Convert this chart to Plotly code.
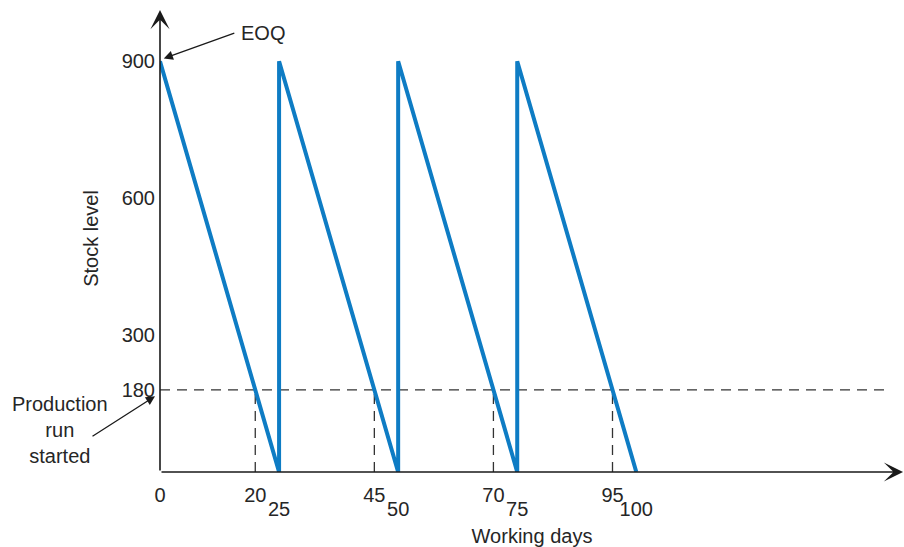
import plotly.graph_objects as go

# ---- data ----
days = [0, 25, 25, 50, 50, 75, 75, 100]
stock = [900, 0, 900, 0, 900, 0, 900, 0]
reorder_days = [20, 45, 70, 95]
reorder_level = 180
eoq = 900
xticks_upper = [0, 20, 45, 70, 95]
xticks_lower = [25, 50, 75, 100]
yticks = [180, 300, 600, 900]

FONT = "Liberation Sans"
TXT = "#262626"
BLUE = "#0e7cc4"
DASH = "#333333"

X_MAX = 156.2
Y_MAX = 1023.2
X_TIP = 156.0
Y_TIP = 1012
DASH_END = 152.6

fig = go.Figure()

# horizontal reorder line
fig.add_trace(go.Scatter(
    x=[0, DASH_END], y=[reorder_level, reorder_level], mode="lines",
    line=dict(color=DASH, width=1.3, dash="10px,7px"), hoverinfo="skip",
    showlegend=False))
# vertical reorder lines
for d in reorder_days:
    fig.add_trace(go.Scatter(
        x=[d, d], y=[0, reorder_level], mode="lines",
        line=dict(color=DASH, width=1.3, dash="10px,7px"), hoverinfo="skip",
        showlegend=False))

# stock level sawtooth
fig.add_trace(go.Scatter(
    x=days, y=stock, mode="lines",
    line=dict(color=BLUE, width=4), showlegend=False, cliponaxis=False))

# second x axis for staggered labels
fig.add_trace(go.Scatter(x=[0], y=[0], xaxis="x2", mode="markers",
                         marker=dict(opacity=0), hoverinfo="skip", showlegend=False))

anns = []
# axes arrows
anns.append(dict(x=X_TIP, y=0, ax=0, ay=0, xref="x", yref="y", axref="x", ayref="y",
                 text="", showarrow=True, arrowhead=3, arrowsize=2.0, arrowwidth=1.6,
                 arrowcolor="#1a1a1a", standoff=0, startstandoff=0))
anns.append(dict(x=0, y=Y_TIP, ax=0, ay=0, xref="x", yref="y", axref="x", ayref="y",
                 text="", showarrow=True, arrowhead=3, arrowsize=2.0, arrowwidth=1.6,
                 arrowcolor="#1a1a1a", standoff=0, startstandoff=0))
# EOQ
anns.append(dict(x=0.8, y=eoq + 6, xref="x", yref="y", ax=72, ay=-26, text="",
                 showarrow=True, arrowhead=2, arrowsize=1.4, arrowwidth=1.3,
                 arrowcolor="#1a1a1a"))
anns.append(dict(x=16.5, y=eoq + 61, xref="x", yref="y", text="EOQ", showarrow=False,
                 xanchor="left", yanchor="middle", font=dict(family=FONT, size=20, color=TXT)))
# Production run started
anns.append(dict(x=-0.0067, y=reorder_level - 14, xref="paper", yref="y", ax=-64, ay=41,
                 text="", showarrow=True, arrowhead=2, arrowsize=1.4, arrowwidth=1.3,
                 arrowcolor="#1a1a1a"))
anns.append(dict(x=-0.134, y=92, xref="paper", yref="y",
                 text="Production<br>run<br>started", showarrow=False,
                 xanchor="center", yanchor="middle", align="center",
                 font=dict(family=FONT, size=20, color=TXT)))

fig.update_layout(
    width=904, height=547,
    margin=dict(l=160, r=0, t=5, b=75, autoexpand=False),
    paper_bgcolor="white", plot_bgcolor="white",
    font=dict(family=FONT, size=20, color=TXT),
    showlegend=False,
    annotations=anns,
    xaxis=dict(range=[0, X_MAX], tickvals=xticks_upper, ticks="", showgrid=False,
               zeroline=False, showline=False, ticklabelstandoff=9, automargin=False,
               title=dict(text="Working days", standoff=30,
                          font=dict(family=FONT, size=20, color=TXT))),
    xaxis2=dict(range=[0, X_MAX], overlaying="x", anchor="y", side="bottom",
                tickvals=xticks_lower, ticks="", showgrid=False, zeroline=False,
                showline=False, ticklabelstandoff=23, automargin=False),
    yaxis=dict(range=[0, Y_MAX], tickvals=yticks, ticks="", showgrid=False,
               zeroline=False, showline=False, ticklabelstandoff=4, automargin=False,
               title=dict(text="Stock level", standoff=17,
                          font=dict(family=FONT, size=20, color=TXT))),
)

fig.write_html("out.html", config={"displayModeBar": False},
               post_script="document.body.style.margin='0';")
